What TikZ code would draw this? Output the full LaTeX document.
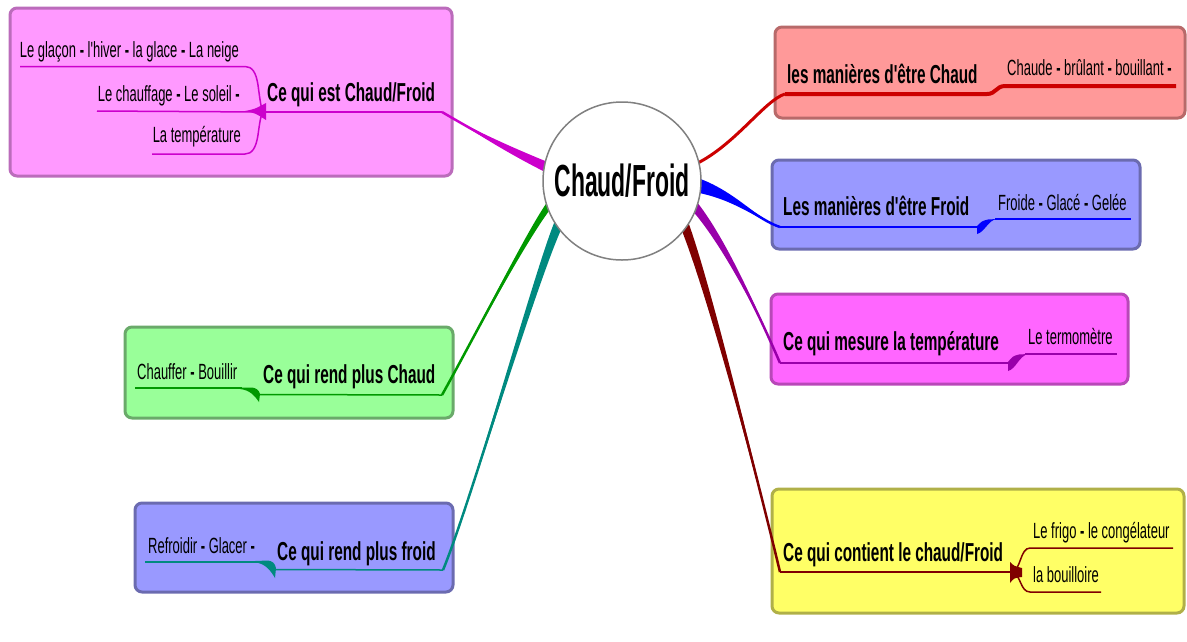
\documentclass[tikz,border=0pt]{standalone}
\usepackage{fontspec}
\setmainfont{Liberation Sans}
\newfontfamily\mmnar[FakeStretch=0.59]{Liberation Sans}
\newfontfamily\mmhub[FakeStretch=0.51]{Liberation Sans}
\usetikzlibrary{calc}
\pgfdeclarelayer{boxes}
\pgfdeclarelayer{conn}
\pgfsetlayers{boxes,conn,main}
\definecolor{pinkF}{HTML}{FF99FF}\definecolor{pinkB}{HTML}{BB6CBB}\definecolor{pinkL}{HTML}{CC00CC}
\definecolor{redF}{HTML}{FF9999}\definecolor{redB}{HTML}{B86A6A}\definecolor{redL}{HTML}{CC0000}
\definecolor{blueF}{HTML}{9999FF}\definecolor{blueB}{HTML}{6B6BB0}\definecolor{blueL}{HTML}{0000FF}
\definecolor{magF}{HTML}{FF66FF}\definecolor{magB}{HTML}{B848B8}\definecolor{magL}{HTML}{9900AA}
\definecolor{yelF}{HTML}{FFFF66}\definecolor{yelB}{HTML}{B0B048}\definecolor{yelL}{HTML}{800000}
\definecolor{grnF}{HTML}{99FF99}\definecolor{grnB}{HTML}{6AAA6A}\definecolor{grnL}{HTML}{009900}
\definecolor{tealL}{HTML}{008A80}
\newcommand\mmTaper[6]{%
  \fill[#1] ($(#2)+(#6)$) .. controls ($(#3)+0.6*(#6)$) and (#4) .. (#5)
     .. controls (#4) and ($(#3)-0.6*(#6)$) .. ($(#2)-(#6)$) -- cycle;
  \draw[#1, line width=2.5pt] (#2) .. controls (#3) and (#4) .. (#5);}
\begin{document}
\begin{tikzpicture}[x=1pt,y=-1pt,
  mainlbl/.style={font=\mmnar\bfseries\fontsize{26}{28}\selectfont, inner sep=0pt, anchor=base west},
  sublbl/.style={font=\mmnar\fontsize{22}{24}\selectfont, inner sep=0pt, anchor=base west},
  box/.style={rounded corners=7pt, line width=3pt},
  thin/.style={line width=1.5pt},
  hubst/.style={circle, draw=gray, fill=white, line width=1.5pt, minimum size=158pt, inner sep=0pt,
    font=\mmhub\bfseries\fontsize{45}{48}\selectfont}]
\useasboundingbox (0,0) rectangle (1187,641);
% ---------- boxes
\begin{pgfonlayer}{boxes}
\draw[box, draw=pinkB, fill=pinkF] (10,8) rectangle (452,176);
\draw[box, draw=redB, fill=redF] (775,27) rectangle (1185,118);
\draw[box, draw=blueB, fill=blueF] (772,160) rectangle (1140,249);
\draw[box, draw=magB, fill=magF] (771,294) rectangle (1128,384);
\draw[box, draw=yelB, fill=yelF] (772,489) rectangle (1184,613);
\draw[box, draw=grnB, fill=grnF] (125,327) rectangle (453,418);
\draw[box, draw=blueB, fill=blueF] (135,503) rectangle (453,592);
\end{pgfonlayer}
% ---------- hub
\node[hubst] (hub) at (622,181) {Chaud/Froid};
% ---------- labels
\node[mainlbl] (m1) at (267,101.5) {Ce qui est Chaud/Froid};
\node[sublbl, anchor=base east] (s1a) at (239,57) {Le glaçon \textbf{-} l'hiver \textbf{-} la glace \textbf{-} La neige};
\node[sublbl, anchor=base east] (s1b) at (240,101) {Le chauffage \textbf{-} Le soleil \textbf{-}};
\node[sublbl, anchor=base east] (s1c) at (241,142) {La température};
\node[mainlbl] (m2) at (787,83) {les manières d'être Chaud};
\node[sublbl] (s2) at (1007,75) {Chaude \textbf{-} brûlant \textbf{-} bouillant \textbf{-}};
\node[mainlbl] (m3) at (783,215) {Les manières d'être Froid};
\node[sublbl] (s3) at (998,210) {Froide \textbf{-} Glacé \textbf{-} Gelée};
\node[mainlbl] (m4) at (783,350) {Ce qui mesure la température};
\node[sublbl] (s4) at (1028,344) {Le termomètre};
\node[mainlbl] (m5) at (783,561) {Ce qui contient le chaud/Froid};
\node[sublbl] (s5a) at (1033,538) {Le frigo \textbf{-} le congélateur};
\node[sublbl] (s5b) at (1033,582) {la bouilloire};
\node[mainlbl] (m6) at (263,383) {Ce qui rend plus Chaud};
\node[sublbl] (s6) at (137,379) {Chauffer \textbf{-} Bouillir};
\node[mainlbl] (m7) at (277,560) {Ce qui rend plus froid};
\node[sublbl] (s7) at (148,553) {Refroidir \textbf{-} Glacer \textbf{-}};
% ---------- underline coordinates
\coordinate (e1) at (442,112); \coordinate (j1) at (263,112);
\coordinate (e2) at (785,94);  \coordinate (e3) at (780,227);
\coordinate (e4) at (780,363); \coordinate (e5) at (780,572);
\coordinate (e6) at (442,395); \coordinate (e7) at (443,570);
% ---------- connectors
\begin{pgfonlayer}{conn}
\mmTaper{pinkL}{$(hub.center)!0.93!(hub.170)$}{500,146}{466,126}{e1}{2.4,-4.6}
\draw[redL, line width=3pt] ($(hub.center)!0.95!(hub.13)$) .. controls (735,145) and (765,100) .. (e2);
\mmTaper{blueL}{$(hub.center)!0.93!(hub.-3)$}{735,195}{758,220}{e3}{0,7.5}
\mmTaper{magL}{$(hub.center)!0.93!(hub.-18)$}{728,245}{768,335}{e4}{3.8,-2.6}
\mmTaper{yelL}{$(hub.center)!0.93!(hub.-34)$}{712,295}{770,530}{e5}{4.5,-1}
\mmTaper{grnL}{$(hub.center)!0.93!(hub.197)$}{528,232}{470,345}{e6}{3,1.8}
\mmTaper{tealL}{$(hub.center)!0.93!(hub.213)$}{538,268}{470,505}{e7}{4.6,1.2}
\end{pgfonlayer}
% ---------- pink box branches
\draw[pinkL, thin] (j1) -- (e1);
\draw[pinkL, thin] (20,66.5) -- (245,66.5) .. controls (252,66.5) and (256,72) .. (258,85) .. controls (260,100) and (261,108) .. (j1);
\draw[pinkL, thin] (97,111) -- (j1);
\draw[pinkL, thin] (152,154) -- (245,154) .. controls (252,154) and (256,148) .. (258,135) .. controls (260,120) and (261,115) .. (j1);
\fill[pinkL] (245,111) .. controls (255,109) .. (266,103) -- (266,120) .. controls (255,113) .. (245,111) -- cycle;
% ---------- red
\draw[redL, line width=4pt] (e2) -- (987,94) .. controls (996,94) and (996,86) .. (1005,86) -- (1176,86);
% ---------- blue
\draw[blueL, thin] (e3) -- (977,227);
\fill[blueL] (977,226) -- (977,234) .. controls (985,232) and (988,220) .. (997,219) -- (988,219.5) .. controls (982,221) .. (977,226) -- cycle;
\draw[blueL, thin] (995,219) -- (1131,219);
% ---------- magenta
\draw[magL, thin] (e4) -- (1008,363);
\fill[magL] (1008,362) -- (1008,371) .. controls (1016,369) and (1019,356) .. (1028,354) -- (1019,354.5) .. controls (1013,356) .. (1008,362) -- cycle;
\draw[magL, thin] (1025,354) -- (1117,354);
% ---------- yellow
\draw[yelL, thin] (e5) -- (1012,572);
\draw[yelL, thin] (1012,572) .. controls (1021,570) and (1020,548) .. (1030,548) -- (1173,548);
\draw[yelL, thin] (1012,572) .. controls (1021,574) and (1020,592) .. (1030,592) -- (1101,592);
\fill[yelL] (1010,562) .. controls (1014,566) .. (1022,568) -- (1022,577) .. controls (1014,578) .. (1010,583) -- cycle;
% ---------- green
\draw[grnL, thin] (135,388) -- (242,388);
\fill[grnL] (240,387.5) -- (252,387.5) .. controls (256,388) and (259,390) .. (260,394) -- (259,402) .. controls (255,396) and (250,390) .. (240,389) -- cycle;
\draw[grnL, thin] (259,394.5) -- (e6);
% ---------- teal
\draw[tealL, thin] (145,562) -- (257,562);
\fill[tealL] (255,561) -- (268,560.5) .. controls (272,561) and (275,563) .. (276,568) -- (275,578) .. controls (271,571) and (265,563) .. (255,562.5) -- cycle;
\draw[tealL, thin] (275,569.5) -- (e7);
\end{tikzpicture}
\end{document}
